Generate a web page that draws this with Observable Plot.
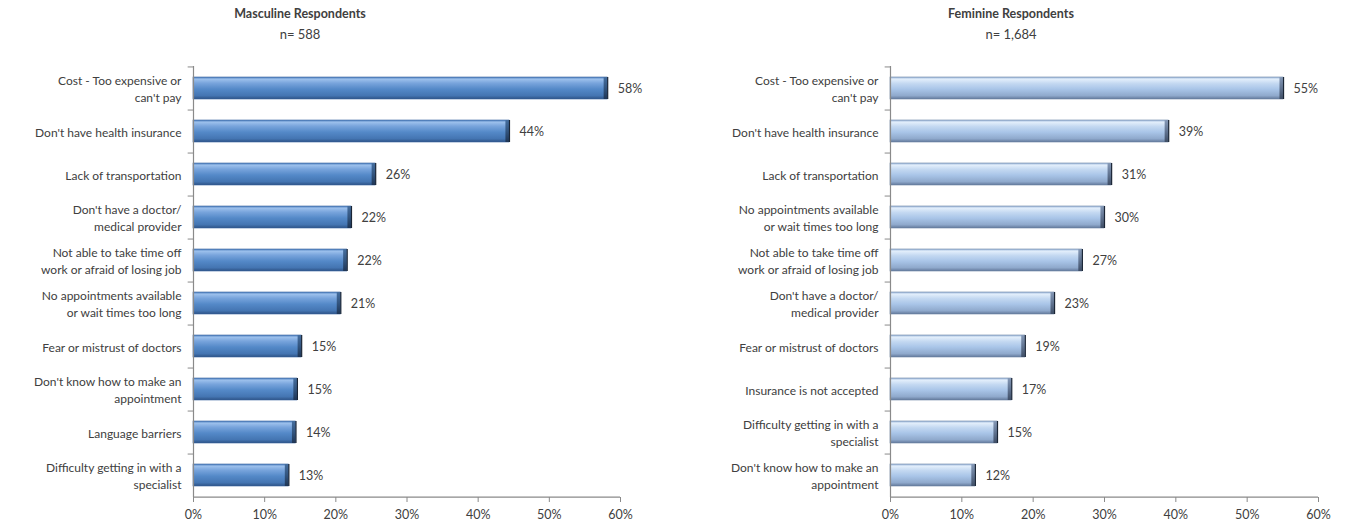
<!DOCTYPE html>
<html><head><meta charset="utf-8">
<script src="https://cdn.jsdelivr.net/npm/d3@7"></script>
<script src="https://cdn.jsdelivr.net/npm/@observablehq/plot@0.6"></script>
<style>
body{margin:0;background:#fff;font-family:Lato,"DejaVu Sans Condensed",sans-serif;color:#404040}
#wrap{display:flex;width:1348px;height:529px;overflow:hidden}
.panel{width:674px;flex:none}
.title{height:50px;text-align:center;font-size:13px;line-height:20px;padding-top:4px;box-sizing:border-box}
.title b{display:block;font-size:12.5px}
svg{display:block}
</style></head><body>
<div id="wrap">
<div class="panel" id="left"><div class="title" style="width:600px"><b>Masculine Respondents</b>n= 588</div></div>
<div class="panel" id="right"><div class="title"><b>Feminine Respondents</b>n= 1,684</div></div>
</div>
<script>
const mascCategories = [
  "Cost - Too expensive or\ncan't pay",
  "Don't have health insurance",
  "Lack of transportation",
  "Don't have a doctor/\nmedical provider",
  "Not able to take time off\nwork or afraid of losing job",
  "No appointments available\nor wait times too long",
  "Fear or mistrust of doctors",
  "Don't know how to make an\nappointment",
  "Language barriers",
  "Difficulty getting in with a\nspecialist"
];
const mascValues = [58.2, 44.4, 25.6, 22.2, 21.6, 20.7, 15.2, 14.6, 14.4, 13.4];

const femCategories = [
  "Cost - Too expensive or\ncan't pay",
  "Don't have health insurance",
  "Lack of transportation",
  "No appointments available\nor wait times too long",
  "Not able to take time off\nwork or afraid of losing job",
  "Don't have a doctor/\nmedical provider",
  "Fear or mistrust of doctors",
  "Insurance is not accepted",
  "Difficulty getting in with a\nspecialist",
  "Don't know how to make an\nappointment"
];
const femValues = [55.1, 39.0, 31.0, 30.0, 26.9, 23.0, 18.9, 17.0, 15.0, 11.9];

const xTicks = [0, 10, 20, 30, 40, 50, 60];

const mascStops = [[0,"#4a7cbb"],[0.1,"#9cc0ec"],[0.28,"#78a4dc"],[0.55,"#5489c8"],[0.85,"#4475b2"],[1,"#2d5285"]];
const femStops  = [[0,"#9bb6da"],[0.1,"#e2eefb"],[0.3,"#c3d8f1"],[0.55,"#a9c5e8"],[0.85,"#8fa9cc"],[1,"#62789a"]];
const mascCap = [[0,"#456e9f"],[0.5,"#33557f"],[1,"#1f3656"]];
const femCap  = [[0,"#8599b7"],[0.5,"#627592"],[1,"#3f4e66"]];

function defs(id, stops) {
  return () => {
    const d = d3.create("svg:defs");
    const g = d.append("linearGradient").attr("id", id).attr("x1", 0).attr("y1", 0).attr("x2", 0).attr("y2", 1);
    stops.forEach(([o, c]) => g.append("stop").attr("offset", o).attr("stop-color", c));
    return d.node();
  };
}

function chart(cats, vals, key, stops, capStops, outline, ml, mr) {
  const data = cats.map((c, i) => ({c, v: vals[i]}));
  const H = 479, mt = 16, mb = 32;
  const step = (H - mt - mb) / cats.length;
  return Plot.plot({
    width: 674, height: H,
    marginLeft: ml, marginRight: mr, marginTop: mt, marginBottom: mb,
    style: {fontFamily: 'Lato,"DejaVu Sans Condensed",sans-serif', color: "#404040", background: "#fff"},
    x: {domain: [0, 60]},
    y: {domain: cats, paddingInner: 0.5, paddingOuter: 0.25},
    marks: [
      defs(key + "g", stops),
      defs(key + "c", capStops),
      Plot.barX(data, {x: "v", y: "c", fill: `url(#${key}g)`, stroke: outline, strokeWidth: 0.6}),
      Plot.barX(data, {x1: d => d.v - 0.5, x2: "v", y: "c", fill: `url(#${key}c)`}),
      Plot.tickX(data, {x: "v", y: "c", stroke: "#1a2535", strokeWidth: 1.2}),
      Plot.text(data, {x: "v", y: "c", text: d => Math.round(d.v) + "%", dx: 10, textAnchor: "start", fontSize: 12.5, fill: "#404040"}),
      Plot.ruleX([0], {stroke: "#8a8a8a", strokeWidth: 1.2}),
      Plot.ruleY([cats[0]], {y: d => d, x1: -0.75, x2: 0, dy: -step / 2, stroke: "#8a8a8a"}),
      Plot.ruleY(cats.slice(0, -1), {y: d => d, x1: -0.75, x2: 0, dy: step / 2, stroke: "#8a8a8a"}),
      Plot.ruleY([cats[cats.length - 1]], {y: d => d, x1: 0, x2: 60, dy: step / 2, stroke: "#8a8a8a", strokeWidth: 1.2}),
      Plot.axisY({tickSize: 0, tickPadding: 12, fontSize: 12, lineHeight: 1.4, label: null, fill: "#404040"}),
      Plot.axisX({ticks: xTicks, tickFormat: d => d + "%", tickSize: 5, tickPadding: 8, fontSize: 12.5, label: null, stroke: "#8a8a8a", fill: "#404040"})
    ]
  });
}

document.getElementById("left").append(chart(mascCategories, mascValues, "m", mascStops, mascCap, "#3a64a0", 193, 54));
document.getElementById("right").append(chart(femCategories, femValues, "f", femStops, femCap, "#6c84a6", 216, 30));
</script>
</body></html>
